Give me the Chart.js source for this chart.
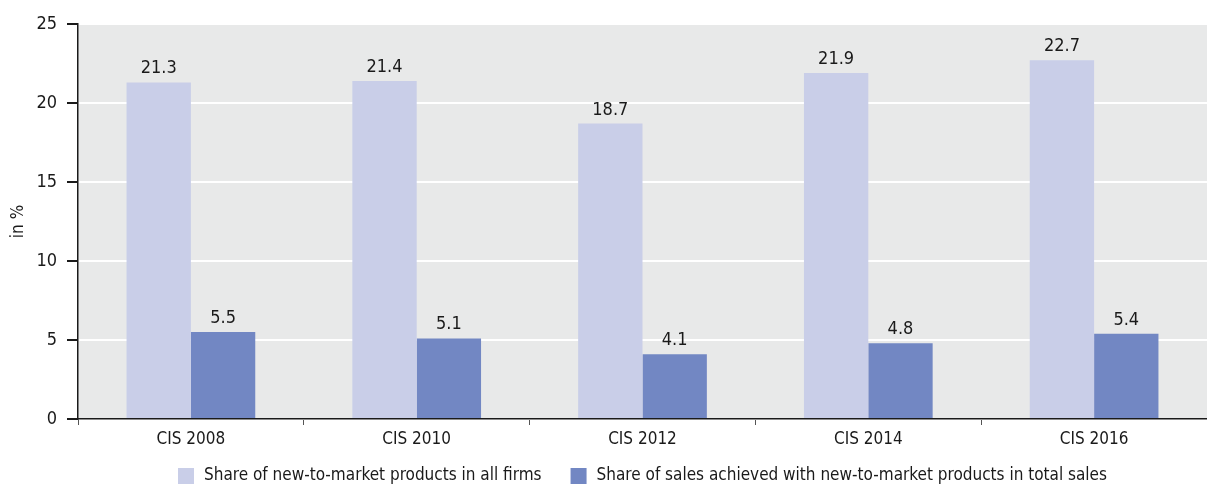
<!DOCTYPE html>
<html>
<head>
<meta charset="utf-8">
<script src="https://cdn.jsdelivr.net/npm/chart.js@4/dist/chart.umd.min.js"></script>
<style>
  html, body { margin: 0; padding: 0; background: #ffffff; }
  #wrap { width: 1207px; height: 487px; position: relative; }
</style>
</head>
<body>
<div id="wrap"><canvas id="grafico"></canvas></div>
<script>
// Datos del gráfico
var categorias = ['CIS 2008', 'CIS 2010', 'CIS 2012', 'CIS 2014', 'CIS 2016'];
var serieProductos = [21.3, 21.4, 18.7, 21.9, 22.7];
var serieVentas = [5.5, 5.1, 4.1, 4.8, 5.4];
var nombreProductos = 'Share of new-to-market products in all firms';
var nombreVentas = 'Share of sales achieved with new-to-market products in total sales';
var ticksY = [0, 5, 10, 15, 20, 25];

var fuente = "'Liberation Sans Narrow', 'DejaVu Sans Condensed', 'Roboto Condensed', sans-serif";
Chart.defaults.font.family = fuente;
Chart.defaults.font.size = 18;
Chart.defaults.color = '#1a1a1a';

// Fondo gris del área de trazado
var fondoArea = {
    id: 'fondoArea',
    beforeDraw: function (chart) {
        var a = chart.chartArea;
        var c = chart.ctx;
        c.save();
        c.fillStyle = '#e8e9e9';
        c.fillRect(a.left, a.top, a.right - a.left, a.bottom - a.top);
        c.restore();
    }
};

// Valores encima de cada barra
var etiquetasValor = {
    id: 'etiquetasValor',
    afterDatasetsDraw: function (chart) {
        var c = chart.ctx;
        c.save();
        c.font = '18px ' + fuente;
        c.fillStyle = '#1a1a1a';
        c.textAlign = 'center';
        c.textBaseline = 'alphabetic';
        chart.data.datasets.forEach(function (ds, i) {
            chart.getDatasetMeta(i).data.forEach(function (barra, j) {
                c.fillText(ds.data[j].toFixed(1), barra.x, barra.y - 9);
            });
        });
        c.restore();
    }
};

// Leyenda propia en una fila, centrada bajo el área de trazado
var leyendaFila = {
    id: 'leyendaFila',
    afterDraw: function (chart) {
        var c = chart.ctx;
        var a = chart.chartArea;
        var caja = 16, hueco = 10, separacion = 29, y = 476;
        c.save();
        c.font = '17px ' + fuente;
        var items = chart.data.datasets.map(function (ds) {
            return { texto: ds.label, color: ds.backgroundColor, ancho: c.measureText(ds.label).width };
        });
        var total = items.reduce(function (s, it) { return s + caja + hueco + it.ancho; }, 0) + separacion * (items.length - 1);
        var x = (a.left + a.right) / 2 - total / 2;
        c.textBaseline = 'middle';
        c.textAlign = 'left';
        items.forEach(function (it) {
            c.fillStyle = it.color;
            c.fillRect(x, y - caja / 2, caja, caja);
            c.fillStyle = '#1a1a1a';
            c.fillText(it.texto, x + caja + hueco, y);
            x += caja + hueco + it.ancho + separacion;
        });
        c.restore();
    }
};

var ctx = document.getElementById('grafico').getContext('2d');
var grafico = new Chart(ctx, {
    type: 'bar',
    data: {
        labels: categorias,
        datasets: [{
            label: nombreProductos,
            data: serieProductos,
            backgroundColor: '#c9cee8',
            borderWidth: 0
        }, {
            label: nombreVentas,
            data: serieVentas,
            backgroundColor: '#7287c3',
            borderWidth: 0
        }]
    },
    options: {
        responsive: true,
        maintainAspectRatio: false,
        animation: false,
        categoryPercentage: 0.57,
        barPercentage: 1.0,
        layout: { padding: { top: 24, right: 0, bottom: 0, left: 0 } },
        plugins: {
            legend: { display: false },
            tooltip: { enabled: false }
        },
        scales: {
            x: {
                afterFit: function (eje) { eje.height = 68; },
                grid: {
                    offset: true,
                    drawOnChartArea: false,
                    drawTicks: true,
                    tickLength: 6,
                    tickColor: '#555555'
                },
                border: { color: '#1a1a1a', width: 1.5 },
                ticks: { color: '#1a1a1a', padding: 4, font: { size: 17 } }
            },
            y: {
                min: 0,
                max: 25,
                afterBuildTicks: function (eje) {
                    eje.ticks = ticksY.map(function (v) { return { value: v }; });
                },
                afterFit: function (eje) { eje.width = 78; },
                grid: {
                    color: '#ffffff',
                    lineWidth: 2,
                    tickColor: '#1a1a1a',
                    tickLength: 11
                },
                border: { color: '#1a1a1a', width: 1.5 },
                ticks: { color: '#1a1a1a', padding: 10 },
                title: {
                    display: true,
                    text: 'in %',
                    color: '#1a1a1a',
                    font: { size: 17 },
                    padding: { top: 8, bottom: 0 }
                }
            }
        }
    },
    plugins: [fondoArea, etiquetasValor, leyendaFila]
});
</script>
</body>
</html>
